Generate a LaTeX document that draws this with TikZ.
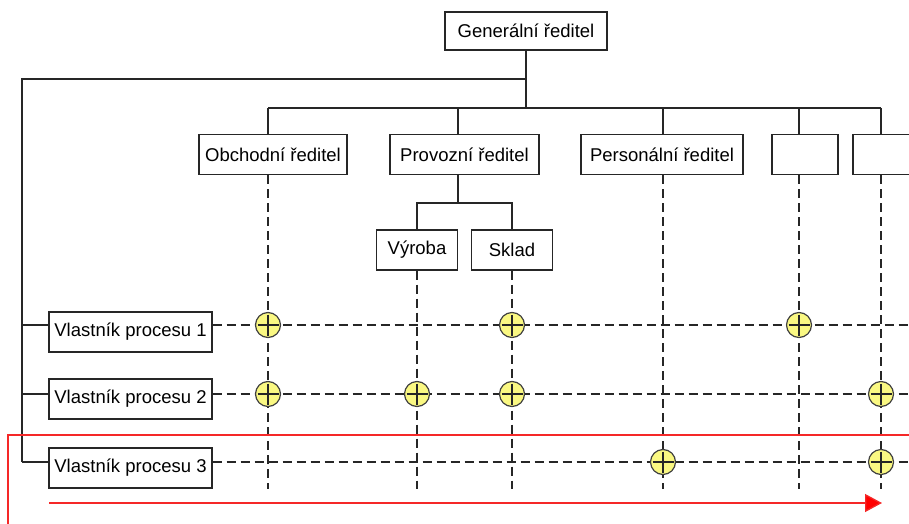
\documentclass[tikz,border=0pt]{standalone}
\usepackage{fontspec}
\setmainfont{Liberation Sans}
\usetikzlibrary{arrows.meta}
\definecolor{redline}{RGB}{245,40,40}
\definecolor{touchfill}{RGB}{250,248,130}
\begin{document}
\begin{tikzpicture}[x=1pt,y=-1pt,
  box/.style={draw=black!85,line width=1.2pt,fill=white,minimum height=40pt,
    inner sep=0pt,font=\fontsize{18.5}{22}\selectfont},
  link/.style={draw=black!85,line width=1.2pt},
  lane/.style={draw=black!85,line width=1.2pt,dash pattern=on 9pt off 5pt},
  flow/.style={draw=redline,line width=1.3pt},
  touch/.style={circle,draw=black!75,line width=1.2pt,fill=touchfill,
    minimum size=25pt,inner sep=0pt,
    path picture={\draw[black!85,line width=1.1pt]
      ([yshift=-2pt]path picture bounding box.north) -- ([yshift=2pt]path picture bounding box.south)
      ([xshift=2pt]path picture bounding box.west) -- ([xshift=-2pt]path picture bounding box.east);}}
]
\useasboundingbox (0,0) rectangle (909,524);

% organisation boxes
\node[box,minimum width=162pt,minimum height=38pt] (gen) at (526,31) {Generální ředitel};
\node[box,minimum width=148pt] (obch) at (273,154.5) {Obchodní ředitel};
\node[box,minimum width=149pt] (prov) at (464.5,154.5) {Provozní ředitel};
\node[box,minimum width=162pt] (pers) at (662,154.5) {Personální ředitel};
\node[box,minimum width=66pt] (e1) at (805,154.5) {};
\node[box,minimum width=66pt] (e2) at (886,154.5) {};
\node[box,minimum width=81pt] (vyr) at (417,250) {Výroba};
\node[box,minimum width=81pt] (skl) at (512,250) {Sklad};
\node[box,minimum width=163pt] (vp1) at (130.5,332) {Vlastník procesu 1};
\node[box,minimum width=163pt] (vp2) at (130.5,399) {Vlastník procesu 2};
\node[box,minimum width=163pt] (vp3) at (130.5,468) {Vlastník procesu 3};

% helper coordinates
\coordinate (corner) at (22,79);
\coordinate (b1) at (268,108);
\coordinate (b2) at (458,108);
\coordinate (b3) at (663,108);
\coordinate (b4) at (799,108);
\coordinate (b5) at (881,108);
\coordinate (fork) at (458,203);
\coordinate (r1) at (22,325);
\coordinate (r2) at (22,394);
\coordinate (r3) at (22,462);
\coordinate (low) at (0,489);
\coordinate (edge) at (915,0);
\coordinate (fr) at (8,435);
\coordinate (fb) at (8,530);
\coordinate (a0) at (49,503);
\coordinate (a1) at (882,503);

% process lanes
\draw[lane] (b1 |- obch.south) -- (b1 |- low);
\draw[lane] (vyr.south) -- (vyr.south |- low);
\draw[lane] (skl.south) -- (skl.south |- low);
\draw[lane] (b3 |- pers.south) -- (b3 |- low);
\draw[lane] (b4 |- e1.south) -- (b4 |- low);
\draw[lane] (b5 |- e2.south) -- (b5 |- low);
\draw[lane] (r1 -| vp1.east) -- (r1 -| edge);
\draw[lane] (r2 -| vp2.east) -- (r2 -| edge);
\draw[lane] (r3 -| vp3.east) -- (r3 -| edge);

% hierarchy
\draw[link] (gen.south) -- (gen.south |- b1);
\draw[link] (b1) -- (b5);
\draw[link] (gen.south |- corner) -- (corner) -- (corner |- r3);
\draw[link] (b1) -- (b1 |- obch.north);
\draw[link] (b2) -- (b2 |- prov.north);
\draw[link] (b3) -- (b3 |- pers.north);
\draw[link] (b4) -- (b4 |- e1.north);
\draw[link] (b5) -- (b5 |- e2.north);
\draw[link] (fork |- prov.south) -- (fork);
\draw[link] (vyr.north) |- (fork) -| (skl.north);
\draw[link] (r1) -- (r1 -| vp1.west);
\draw[link] (r2) -- (r2 -| vp2.west);
\draw[link] (r3) -- (r3 -| vp3.west);

% red process frame and direction
\draw[flow] (fr -| edge) -- (fr) -- (fb);
\draw[flow,-{Triangle[length=17pt,width=18pt,fill=red]}] (a0) -- (a1);

% touch points
\node[touch] (t11) at (b1 |- r1) {};
\node[touch] (t12) at (skl |- r1) {};
\node[touch] (t13) at (b4 |- r1) {};
\node[touch] (t21) at (b1 |- r2) {};
\node[touch] (t22) at (vyr |- r2) {};
\node[touch] (t23) at (skl |- r2) {};
\node[touch] (t24) at (b5 |- r2) {};
\node[touch] (t31) at (b3 |- r3) {};
\node[touch] (t32) at (b5 |- r3) {};
\end{tikzpicture}
\end{document}
